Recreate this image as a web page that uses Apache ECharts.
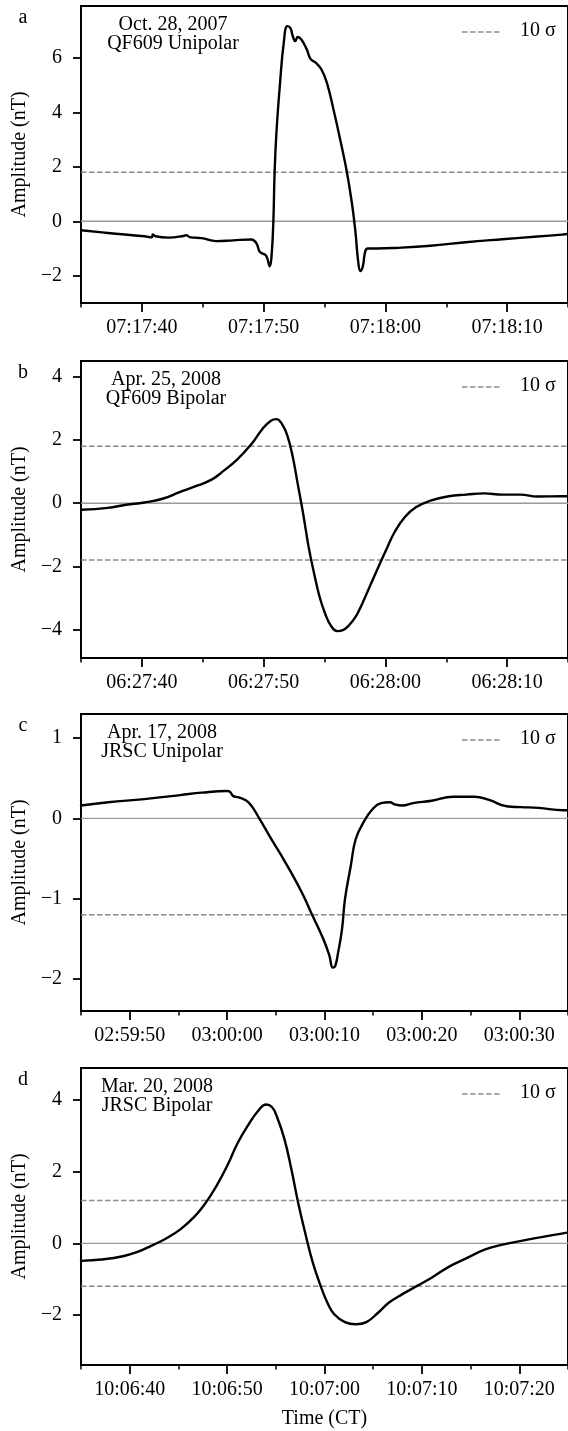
<!DOCTYPE html>
<html><head><meta charset="utf-8">
<script src="https://cdn.jsdelivr.net/npm/echarts@6/dist/echarts.min.js"></script>
<style>html,body{margin:0;padding:0;background:#fff}#c{width:568px;height:1431px}</style>
</head><body><div id="c"></div>
<script>
const FONT = "'Liberation Serif','Times New Roman',serif";

// ---------- Panel a ----------
const labelA = 'a';
const titleA = ['Oct. 28, 2007', 'QF609 Unipolar'];
const baseA = '07:17:00';
const xRangeA = ['07:17:35', '07:18:15'];
const yRangeA = [-3, 7.9];
const yTicksA = [-2, 0, 2, 4, 6];
const xTickLabelsA = ['07:17:40', '07:17:50', '07:18:00', '07:18:10'];
const xMinorA = ['07:17:35', '07:17:45', '07:17:55', '07:18:05', '07:18:15'];
const sigmaA = [1.8];
const timeA = [35, 37.2, 40.2, 40.8, 40.9, 41.1, 42.2, 43.5, 43.6, 44.0, 44.9, 46.1, 47.5, 49.0, 49.4, 49.7, 50.2, 50.5, 50.65, 50.8, 50.9, 51.05, 51.35, 51.65, 51.95, 52.2, 52.4, 52.6, 52.8, 53.1, 53.55, 53.85, 54.3, 54.75, 55.2, 55.8, 56.35, 56.8, 57.25, 57.55, 57.75, 57.95, 58.15, 58.35, 58.55, 59.3, 60.8, 63.7, 66.6, 69.6, 72.5, 74.5, 75];
const ampA = [-0.33, -0.43, -0.55, -0.59, -0.48, -0.55, -0.60, -0.53, -0.51, -0.59, -0.62, -0.73, -0.70, -0.67, -0.80, -1.13, -1.26, -1.65, -1.28, 0.0, 1.77, 3.24, 5.08, 6.54, 7.16, 7.09, 6.79, 6.61, 6.76, 6.67, 6.30, 5.96, 5.81, 5.57, 5.08, 3.98, 2.87, 1.90, 0.67, -0.43, -1.41, -1.83, -1.65, -1.10, -1.0, -1.0, -0.98, -0.9, -0.77, -0.66, -0.56, -0.49, -0.47];

// ---------- Panel b ----------
const labelB = 'b';
const titleB = ['Apr. 25, 2008', 'QF609 Bipolar'];
const baseB = '06:27:00';
const xRangeB = ['06:27:35', '06:28:15'];
const yRangeB = [-4.9, 4.5];
const yTicksB = [-4, -2, 0, 2, 4];
const xTickLabelsB = ['06:27:40', '06:27:50', '06:28:00', '06:28:10'];
const xMinorB = ['06:27:35', '06:27:45', '06:27:55', '06:28:05', '06:28:15'];
const sigmaB = [1.8, -1.8];
const timeB = [35, 37.2, 38.7, 40.2, 41.7, 43.1, 44.6, 45.8, 46.6, 47.8, 49.0, 49.9, 50.6, 51.05, 51.5, 51.95, 52.4, 52.8, 53.25, 53.7, 54.15, 54.6, 55.05, 55.5, 56.05, 56.5, 56.95, 57.55, 58.1, 58.7, 59.3, 60.05, 60.75, 61.6, 62.5, 63.7, 65.2, 66.65, 68.1, 69.6, 71.1, 72.5, 74.5, 75];
const ampB = [-0.21, -0.15, -0.05, 0.02, 0.14, 0.35, 0.56, 0.76, 0.99, 1.37, 1.87, 2.35, 2.61, 2.66, 2.51, 2.14, 1.45, 0.61, -0.34, -1.39, -2.23, -2.97, -3.49, -3.86, -4.05, -4.02, -3.89, -3.6, -3.18, -2.65, -2.13, -1.49, -0.92, -0.44, -0.13, 0.08, 0.22, 0.27, 0.31, 0.27, 0.27, 0.21, 0.22, 0.22];

// ---------- Panel c ----------
const labelC = 'c';
const titleC = ['Apr. 17, 2008', 'JRSC Unipolar'];
const baseC = '02:59:00';
const xRangeC = ['02:59:45', '03:00:35'];
const yRangeC = [-2.4, 1.3];
const yTicksC = [-2, -1, 0, 1];
const xTickLabelsC = ['02:59:50', '03:00:00', '03:00:10', '03:00:20', '03:00:30'];
const xMinorC = ['02:59:45', '02:59:55', '03:00:05', '03:00:15', '03:00:25', '03:00:35'];
const sigmaC = [-1.2];
const timeC = [45, 47.8, 51.5, 55.2, 57.4, 60.0, 60.3, 60.6, 61.2, 62.2, 63.3, 64.5, 65.5, 66.6, 67.7, 68.8, 69.9, 70.5, 70.85, 71.1, 71.4, 71.8, 72.1, 72.7, 73.2, 74.0, 74.9, 75.8, 76.7, 77.3, 78.0, 79.1, 81.0, 83.2, 85.4, 86.9, 88.7, 90.2, 92.0, 94.5, 95];
const ampC = [0.16, 0.20, 0.24, 0.29, 0.32, 0.34, 0.33, 0.28, 0.26, 0.20, 0.0, -0.25, -0.45, -0.68, -0.93, -1.22, -1.51, -1.71, -1.86, -1.84, -1.67, -1.38, -1.01, -0.59, -0.26, -0.05, 0.11, 0.19, 0.20, 0.17, 0.16, 0.19, 0.22, 0.27, 0.27, 0.23, 0.15, 0.14, 0.13, 0.10, 0.10];

// ---------- Panel d ----------
const labelD = 'd';
const titleD = ['Mar. 20, 2008', 'JRSC Bipolar'];
const baseD = '10:06:00';
const xRangeD = ['10:06:35', '10:07:25'];
const yRangeD = [-3.4, 4.9];
const yTicksD = [-2, 0, 2, 4];
const xTickLabelsD = ['10:06:40', '10:06:50', '10:07:00', '10:07:10', '10:07:20'];
const xMinorD = ['10:06:35', '10:06:45', '10:06:55', '10:07:05', '10:07:15', '10:07:25'];
const sigmaD = [1.2, -1.2];
const timeD = [35, 37.1, 39.3, 40.8, 42.2, 43.7, 45.2, 46.7, 47.8, 48.9, 50.0, 51.1, 52.2, 53.3, 54.0, 54.6, 55.1, 55.9, 56.6, 57.3, 58.1, 58.8, 59.6, 60.3, 61.0, 62.1, 63.2, 64.3, 65.5, 66.6, 68.0, 69.5, 71.0, 72.8, 74.7, 76.5, 78.4, 80.2, 82.0, 84.5, 85];
const ampD = [-0.49, -0.45, -0.36, -0.24, -0.07, 0.13, 0.39, 0.76, 1.13, 1.60, 2.16, 2.81, 3.32, 3.74, 3.88, 3.81, 3.55, 2.90, 2.07, 1.13, 0.20, -0.54, -1.19, -1.66, -1.98, -2.20, -2.26, -2.20, -1.94, -1.66, -1.42, -1.19, -0.96, -0.65, -0.40, -0.17, -0.03, 0.07, 0.16, 0.28, 0.30];

const legendText = '10 σ';
const xAxisTitle = 'Time (CT)';
const yAxisTitle = 'Amplitude (nT)';

// ---------- layout ----------
const gridTops = [6, 361, 714, 1068];
const gridHeight = 297;
const gridLeft = 81;
const gridWidth = 492;
const titleCenters = [173, 166, 162, 157];

function toSec(s) { const p = s.split(':').map(Number); return p[0] * 3600 + p[1] * 60 + p[2]; }
function pad(n) { return (n < 10 ? '0' : '') + n; }
function fmtTime(sec) {
  sec = Math.round(sec);
  const h = Math.floor(sec / 3600), m = Math.floor((sec % 3600) / 60), s = sec % 60;
  return pad(h) + ':' + pad(m) + ':' + pad(s);
}
function fmtNum(v) { return v < 0 ? '\u2212' + Math.abs(v) : String(v); }

const panels = [
  { label: labelA, title: titleA, base: baseA, xr: xRangeA, yr: yRangeA, yt: yTicksA, xt: xTickLabelsA, xm: xMinorA, sig: sigmaA, t: timeA, v: ampA },
  { label: labelB, title: titleB, base: baseB, xr: xRangeB, yr: yRangeB, yt: yTicksB, xt: xTickLabelsB, xm: xMinorB, sig: sigmaB, t: timeB, v: ampB },
  { label: labelC, title: titleC, base: baseC, xr: xRangeC, yr: yRangeC, yt: yTicksC, xt: xTickLabelsC, xm: xMinorC, sig: sigmaC, t: timeC, v: ampC },
  { label: labelD, title: titleD, base: baseD, xr: xRangeD, yr: yRangeD, yt: yTicksD, xt: xTickLabelsD, xm: xMinorD, sig: sigmaD, t: timeD, v: ampD }
];

const grid = [], xAxis = [], yAxis = [], series = [], graphic = [];
const txt = { fontFamily: FONT, fontSize: 20, color: '#000' };

panels.forEach((p, i) => {
  const b = toSec(p.base);
  const xmin = toSec(p.xr[0]) - b, xmax = toSec(p.xr[1]) - b;
  const majors = p.xt.map(s => toSec(s) - b);
  const minors = p.xm.map(s => toSec(s) - b);
  const top = gridTops[i];
  grid.push({ left: gridLeft, width: gridWidth, top: top, height: gridHeight, show: true, borderColor: '#000', borderWidth: 2, backgroundColor: 'transparent' });
  xAxis.push({
    type: 'value', gridIndex: i, position: 'bottom', min: xmin, max: xmax,
    axisLine: { show: true, onZero: false, lineStyle: { color: '#000', width: 2 } },
    axisTick: { show: true, length: 9, customValues: majors, lineStyle: { color: '#000', width: 1.8 } },
    axisLabel: { show: true, customValues: majors, margin: 15, ...txt, formatter: v => fmtTime(b + v) },
    splitLine: { show: false },
    name: i === 3 ? xAxisTitle : '', nameLocation: 'middle', nameGap: 44, nameTextStyle: txt
  });
  xAxis.push({
    type: 'value', gridIndex: i, position: 'bottom', min: xmin, max: xmax,
    axisLine: { show: false, onZero: false },
    axisTick: { show: true, length: 4.5, customValues: minors, lineStyle: { color: '#000', width: 1.5 } },
    axisLabel: { show: false }, splitLine: { show: false }
  });
  yAxis.push({
    type: 'value', gridIndex: i, min: p.yr[0], max: p.yr[1],
    axisLine: { show: true, onZero: false, lineStyle: { color: '#000', width: 2 } },
    axisTick: { show: true, length: 8, customValues: p.yt, lineStyle: { color: '#000', width: 1.8 } },
    axisLabel: { show: true, customValues: p.yt, margin: 19, ...txt, formatter: fmtNum },
    splitLine: { show: false },
    name: yAxisTitle, nameLocation: 'middle', nameGap: 44, nameTextStyle: txt
  });
  const xi = i * 2;
  series.push({ type: 'line', xAxisIndex: xi, yAxisIndex: i, data: [[xmin, 0], [xmax, 0]], symbol: 'none', silent: true,
    lineStyle: { color: '#9a9a9a', width: 1.4 }, z: 1 });
  p.sig.forEach(s => {
    series.push({ type: 'line', xAxisIndex: xi, yAxisIndex: i, data: [[xmin, s], [xmax, s]], symbol: 'none', silent: true,
      lineStyle: { color: '#8c8c8c', width: 1.5, type: [5.5, 2.5] }, z: 1 });
  });
  series.push({ type: 'line', xAxisIndex: xi, yAxisIndex: i, data: p.t.map((t, k) => [t, p.v[k]]), symbol: 'none', silent: true,
    smooth: 0.45, lineStyle: { color: '#000', width: 2.4, join: 'round', cap: 'round' }, z: 3 });

  graphic.push({ type: 'text', x: 23, y: top + 12, style: { text: p.label, font: '20px ' + FONT, fill: '#000', align: 'center', verticalAlign: 'middle' } });
  graphic.push({ type: 'text', x: titleCenters[i], y: top + 28, style: { text: p.title.join('\n'), font: '20px ' + FONT, fill: '#000', align: 'center', verticalAlign: 'middle', lineHeight: 19 } });
  graphic.push({ type: 'line', shape: { x1: 462, y1: top + 26, x2: 502, y2: top + 26 }, style: { stroke: '#8c8c8c', lineWidth: 1.5, lineDash: [5.5, 2.5] } });
  graphic.push({ type: 'text', x: 520, y: top + 25, style: { text: legendText, font: '20px ' + FONT, fill: '#000', align: 'left', verticalAlign: 'middle' } });
});

const chart = echarts.init(document.getElementById('c'), null, { renderer: 'canvas' });
chart.setOption({ animation: false, backgroundColor: '#fff', grid, xAxis, yAxis, series, graphic });
</script>
</body></html>
